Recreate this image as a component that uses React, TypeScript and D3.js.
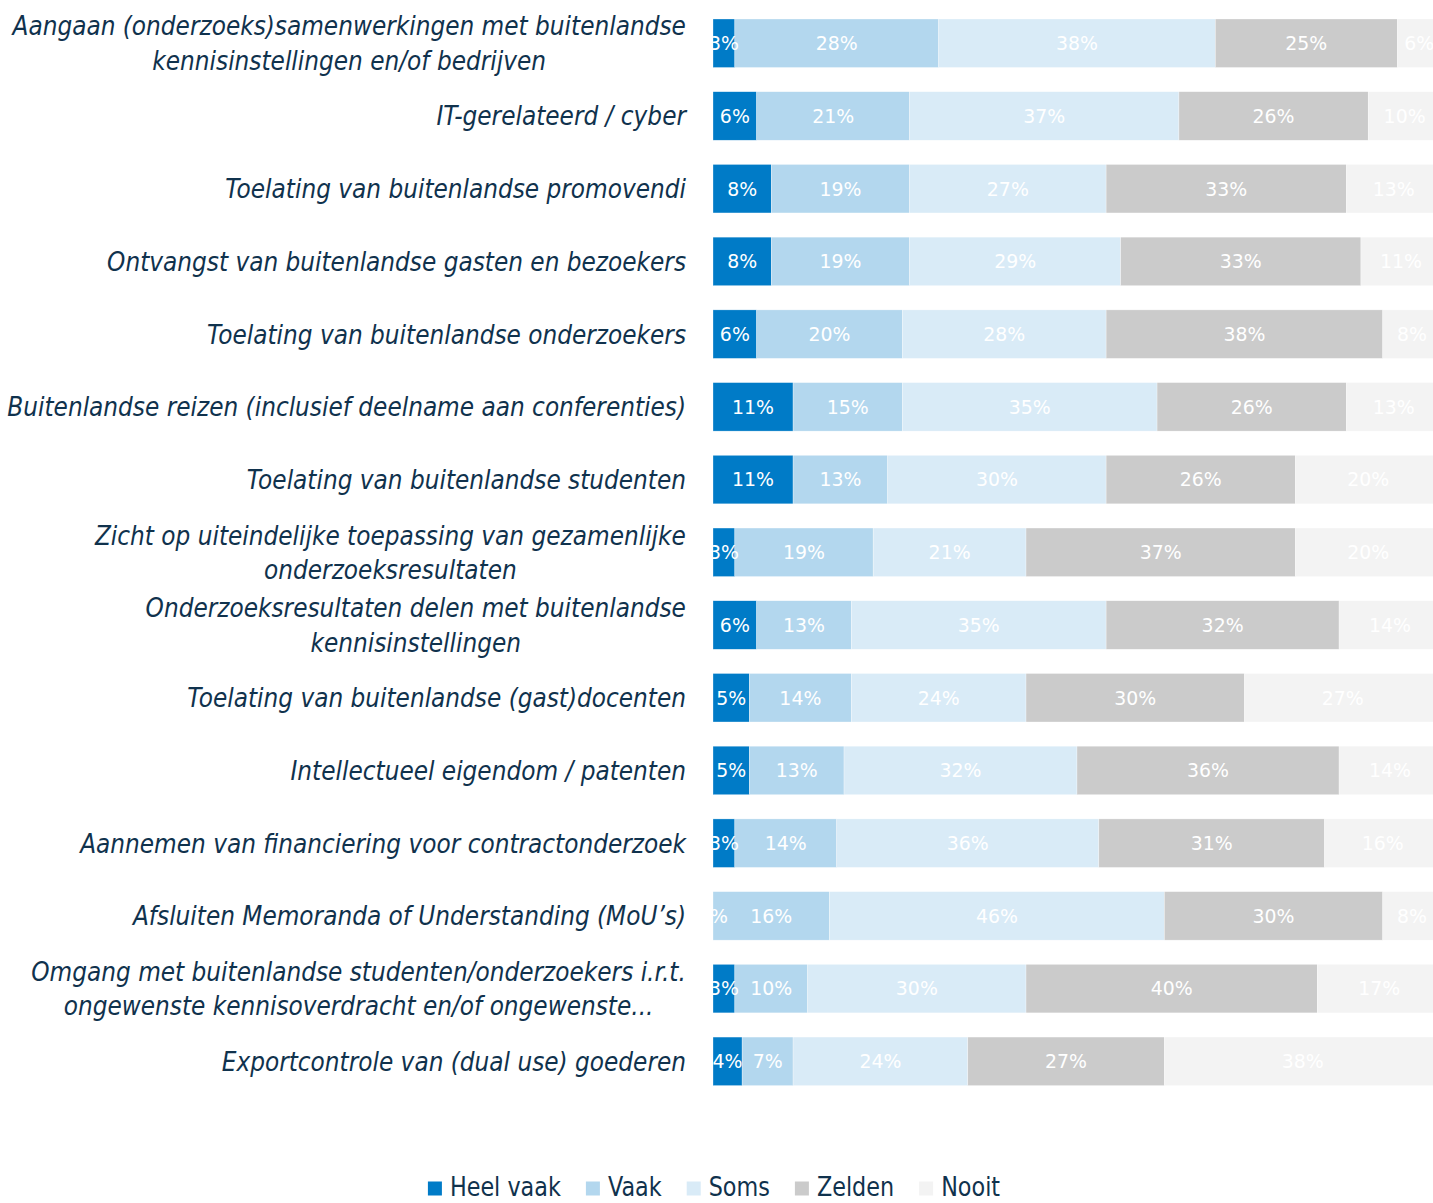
import React, { useEffect, useRef } from "react";
import * as d3 from "d3";

const categories: string[] = [
  "Aangaan (onderzoeks)samenwerkingen met buitenlandse\nkennisinstellingen en/of bedrijven",
  "IT-gerelateerd / cyber",
  "Toelating van buitenlandse promovendi",
  "Ontvangst van buitenlandse gasten en bezoekers",
  "Toelating van buitenlandse onderzoekers",
  "Buitenlandse reizen (inclusief deelname aan conferenties)",
  "Toelating van buitenlandse studenten",
  "Zicht op uiteindelijke toepassing van gezamenlijke\nonderzoeksresultaten",
  "Onderzoeksresultaten delen met buitenlandse\nkennisinstellingen",
  "Toelating van buitenlandse (gast)docenten",
  "Intellectueel eigendom / patenten",
  "Aannemen van financiering voor contractonderzoek",
  "Afsluiten Memoranda of Understanding (MoU’s)",
  "Omgang met buitenlandse studenten/onderzoekers i.r.t.\nongewenste kennisoverdracht en/of ongewenste...",
  "Exportcontrole van (dual use) goederen",
];

const seriesNames: string[] = ["Heel vaak", "Vaak", "Soms", "Zelden", "Nooit"];
const heelVaak: number[] = [3, 6, 8, 8, 6, 11, 11, 3, 6, 5, 5, 3, 0, 3, 4];
const vaak: number[] = [28, 21, 19, 19, 20, 15, 13, 19, 13, 14, 13, 14, 16, 10, 7];
const soms: number[] = [38, 37, 27, 29, 28, 35, 30, 21, 35, 24, 32, 36, 46, 30, 24];
const zelden: number[] = [25, 26, 33, 33, 38, 26, 26, 37, 32, 30, 36, 31, 30, 40, 27];
const nooit: number[] = [6, 10, 13, 11, 8, 13, 20, 20, 14, 27, 14, 16, 8, 17, 38];
const seriesColors: string[] = ["#007bc7", "#b3d7ee", "#d9ebf7", "#cbcbcb", "#f3f3f3"];

const W = 1433;
const H = 1203;
const FONT = "'DejaVu Sans', sans-serif";
const TEXT_COLOR = "#10324d";

export default function App() {
  const ref = useRef<SVGSVGElement | null>(null);

  useEffect(() => {
    const svg = d3.select(ref.current);
    svg.selectAll("*").remove();

    const values = [heelVaak, vaak, soms, zelden, nooit];
    const rows = categories.map((c, i) => {
      const r: any = { cat: c };
      seriesNames.forEach((s, j) => (r[s] = values[j][i]));
      return r;
    });
    const stacked = d3.stack().keys(seriesNames)(rows);

    const x = d3.scaleLinear().domain([0, 100]).range([713, 1441]);
    const y = d3
      .scaleBand<string>()
      .domain(categories)
      .range([19, 19 + 72.72 * (15 - 0.333)])
      .paddingInner(0.333)
      .paddingOuter(0);

    const measure = (txt: string, size: number, italic: boolean) => {
      const t = svg
        .append("text")
        .attr("font-family", FONT)
        .attr("font-size", size)
        .attr("font-style", italic ? "italic" : "normal")
        .text(txt);
      const w = (t.node() as SVGTextElement).getComputedTextLength();
      t.remove();
      return w;
    };
    const catSize = 27;
    const catSx = 461 / measure("Toelating van buitenlandse promovendi", catSize, true);
    const legSize = 26;
    const legSx = 111 / measure("Heel vaak", legSize, false);
    const pctSize = 19;
    const pctSx = 42 / measure("19%", pctSize, false);

    const defs = svg.append("defs");
    defs
      .append("clipPath")
      .attr("id", "plotclip")
      .append("rect")
      .attr("x", x(0))
      .attr("y", 0)
      .attr("width", x(100) - x(0))
      .attr("height", H);

    const plot = svg.append("g").attr("clip-path", "url(#plotclip)");

    stacked.forEach((layer, j) => {
      const g = plot.append("g");
      g.selectAll("rect")
        .data(layer)
        .join("rect")
        .attr("x", (d) => x(d[0]))
        .attr("y", (d: any) => y(d.data.cat)!)
        .attr("width", (d) => x(d[1]) - x(d[0]))
        .attr("height", y.bandwidth())
        .attr("fill", seriesColors[j])
        .attr("stroke", "#ffffff")
        .attr("stroke-width", 0.5)
        .attr("stroke-opacity", 0.6);
    });

    stacked.forEach((layer) => {
      const g = plot.append("g");
      g.selectAll("text")
        .data(layer)
        .join("text")
        .attr(
          "transform",
          (d: any) =>
            `translate(${(x(d[0]) + x(d[1])) / 2},${y(d.data.cat)! + y.bandwidth() / 2}) scale(${pctSx},1)`
        )
        .attr("dy", "0.36em")
        .attr("text-anchor", "middle")
        .attr("font-family", FONT)
        .attr("font-size", pctSize)
        .attr("fill", "#ffffff")
        .text((d) => `${d[1] - d[0]}%`);
    });

    // category labels
    const labelRight = 686;
    const lg = svg.append("g");
    categories.forEach((c) => {
      const lines = c.split("\n");
      const cy = y(c)! + y.bandwidth() / 2;
      const t = lg
        .append("text")
        .attr("transform", `translate(${labelRight},${cy}) scale(${catSx},1)`)
        .attr("font-family", FONT)
        .attr("font-size", catSize)
        .attr("font-style", "italic")
        .attr("fill", TEXT_COLOR);
      if (lines.length === 1) {
        t.attr("x", 0).attr("y", 0).attr("dy", "0.35em").attr("text-anchor", "end").text(c);
      } else {
        const maxW = d3.max(lines, (l) => measure(l, catSize, true))!;
        const cx = -maxW / 2;
        t.attr("text-anchor", "middle");
        lines.forEach((l, k) => {
          t.append("tspan")
            .attr("x", cx)
            .attr("y", (k - (lines.length - 1) / 2) * 34.5)
            .attr("dy", "0.35em")
            .text(l);
        });
      }
    });

    // legend
    const sq = 14;
    const gapText = 8;
    const gapItem = 25;
    const widths = seriesNames.map((s) => measure(s, legSize, false) * legSx);
    const total = d3.sum(widths) + seriesNames.length * (sq + gapText) + (seriesNames.length - 1) * gapItem;
    let lx = 714 - total / 2;
    const legBase = 1196;
    const leg = svg.append("g");
    seriesNames.forEach((s, j) => {
      leg
        .append("rect")
        .attr("x", lx)
        .attr("y", legBase - 14.5)
        .attr("width", sq)
        .attr("height", sq)
        .attr("fill", seriesColors[j]);
      leg
        .append("text")
        .attr("transform", `translate(${lx + sq + gapText},${legBase}) scale(${legSx},1)`)
        .attr("font-family", FONT)
        .attr("font-size", legSize)
        .attr("fill", TEXT_COLOR)
        .text(s);
      lx += sq + gapText + widths[j] + gapItem;
    });
  }, []);

  return (
    <svg
      ref={ref}
      width={W}
      height={H}
      style={{ position: "absolute", left: 0, top: 0, background: "#ffffff" }}
    />
  );
}
